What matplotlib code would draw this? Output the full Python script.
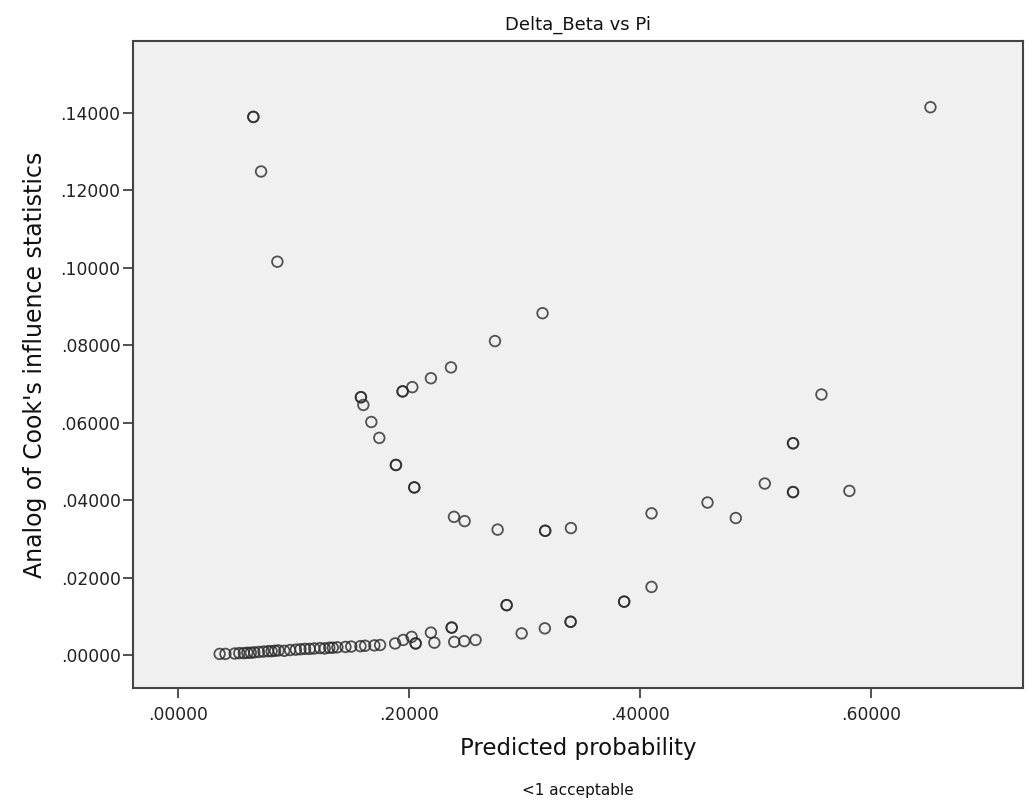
import matplotlib
matplotlib.use("Agg")
import matplotlib.pyplot as plt
from matplotlib.ticker import FuncFormatter

# Upper branch (decreasing then increasing arc)
upper_x = [0.0652, 0.0652, 0.0719, 0.0860, 0.1584, 0.1584, 0.1605, 0.1674, 0.1743,
           0.1887, 0.1887, 0.2046, 0.2046, 0.1945, 0.1945, 0.2029, 0.2190, 0.2364,
           0.2745, 0.3157, 0.2390, 0.2482, 0.2768, 0.3180, 0.3180, 0.3403, 0.4101,
           0.4586, 0.4831, 0.5082, 0.5327, 0.5327, 0.5327, 0.5327, 0.5573, 0.5815,
           0.6517]
upper_y = [0.1390, 0.1390, 0.1249, 0.1016, 0.0666, 0.0666, 0.0646, 0.0602, 0.0561,
           0.0491, 0.0491, 0.0433, 0.0433, 0.0681, 0.0681, 0.0692, 0.0715, 0.0743,
           0.0811, 0.0883, 0.0357, 0.0346, 0.0324, 0.0321, 0.0321, 0.0328, 0.0366,
           0.0394, 0.0354, 0.0443, 0.0547, 0.0547, 0.0421, 0.0421, 0.0673, 0.0424,
           0.1415]

# Lower branch (near zero, rising slowly)
lower_x = [0.036, 0.041, 0.049, 0.053, 0.057, 0.060, 0.063, 0.066, 0.070, 0.074,
           0.078, 0.081, 0.084, 0.087, 0.092, 0.097, 0.102, 0.106, 0.110, 0.114,
           0.118, 0.123, 0.127, 0.131, 0.134, 0.138, 0.145, 0.150, 0.158, 0.162,
           0.170, 0.175, 0.188, 0.195, 0.2023, 0.2058, 0.2058, 0.219, 0.222, 0.237,
           0.237, 0.2392, 0.2479, 0.2577, 0.2846, 0.2846, 0.2976, 0.3177, 0.340,
           0.340, 0.3864, 0.3864, 0.4101]
lower_y = [0.0003, 0.0003, 0.0004, 0.0005, 0.0005, 0.0006, 0.0006, 0.0007, 0.0008, 0.0009,
           0.0010, 0.0010, 0.0011, 0.0012, 0.0011, 0.0013, 0.0014, 0.0015, 0.0016, 0.0016,
           0.0017, 0.0018, 0.0017, 0.0019, 0.0019, 0.0020, 0.0021, 0.0022, 0.0023, 0.0024,
           0.0025, 0.0026, 0.0030, 0.0039, 0.0047, 0.0030, 0.0030, 0.0058, 0.0032, 0.0071,
           0.0071, 0.0034, 0.0036, 0.0039, 0.0129, 0.0129, 0.0056, 0.0069, 0.0086,
           0.0086, 0.0138, 0.0138, 0.0176]

x_ticks = [0.0, 0.2, 0.4, 0.6]
y_ticks = [0.0, 0.02, 0.04, 0.06, 0.08, 0.10, 0.12, 0.14]

fig = plt.figure(figsize=(10.33, 8.09), dpi=100)
ax = fig.add_axes([0.1288, 0.1496, 0.8612, 0.7997])
ax.set_facecolor("#f0f0f0")

xs = upper_x + lower_x
ys = upper_y + lower_y
ax.scatter(xs, ys, s=58, facecolors="none", edgecolors="#2a2a2a", linewidths=1.3,
           alpha=0.8, zorder=3)

ax.set_xlim(-0.039, 0.7316)
ax.set_ylim(-0.0085, 0.1586)
ax.set_xticks(x_ticks)
ax.set_yticks(y_ticks)

fmt = FuncFormatter(lambda v, p: ("%.5f" % v).lstrip("0") if v >= 0 else "%.5f" % v)
ax.xaxis.set_major_formatter(fmt)
ax.yaxis.set_major_formatter(fmt)

for sp in ax.spines.values():
    sp.set_color("#444444")
    sp.set_linewidth(1.5)
ax.tick_params(axis="both", direction="out", length=7, width=1.2, color="#333333",
               labelsize=12.3, labelcolor="#222222")
ax.tick_params(axis="x", pad=6)
ax.tick_params(axis="y", pad=2)

ax.set_title("Delta_Beta vs Pi", fontsize=13, color="#111111", pad=8)
ax.set_xlabel("Predicted probability", fontsize=16.5, color="#111111", labelpad=9)
ax.set_ylabel("Analog of Cook's influence statistics", fontsize=17, color="#111111",
              labelpad=10)

fig.text(0.5595, 1 - 791 / 809, "<1 acceptable", ha="center", va="center",
         fontsize=11, color="#111111")

fig.savefig("out.png", dpi=100, facecolor="white")
